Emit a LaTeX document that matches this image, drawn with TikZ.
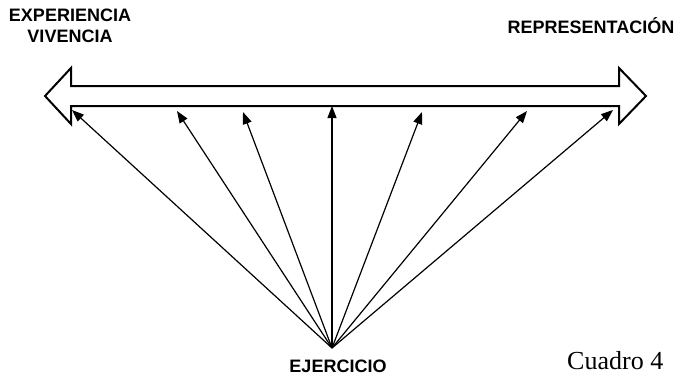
\documentclass[tikz,border=0pt]{standalone}
\usepackage{fontspec}
\setmainfont{Liberation Serif}
\setsansfont{Liberation Sans}
\usetikzlibrary{arrows.meta}
\begin{document}
\begin{tikzpicture}[x=1pt,y=-1pt,
    etiqueta/.style={font=\sffamily\bfseries\fontsize{18}{21}\selectfont, align=center},
    rayo/.style={-{Triangle[length=12pt,width=9pt]}, line width=1.2pt}]
    \useasboundingbox (0,0) rectangle (680,376);
    % Flecha doble
    \draw[line width=2pt] (45,96) -- (71,68) -- (71,86) -- (619,86) -- (619,68)
        -- (646,96) -- (619,124) -- (619,106) -- (71,106) -- (71,124) -- cycle;
    % Extremos
    \node[etiqueta] (experiencia) at (70,26) {EXPERIENCIA\\VIVENCIA};
    \node[etiqueta] (representacion) at (591,26) {REPRESENTACIÓN};
    \node[etiqueta, anchor=base] (ejercicio) at (338,372) {EJERCICIO};
    % Vértice y puntas
    \coordinate (vertice) at (332,348);
    \coordinate (t1) at (72,110);
    \coordinate (t2) at (177,111);
    \coordinate (t3) at (243,112);
    \coordinate (t4) at (332,106);
    \coordinate (t5) at (422,112);
    \coordinate (t6) at (527,111);
    \coordinate (t7) at (613,110);
    % Rayos
    \draw[rayo] (vertice) -- (t1);
    \draw[rayo] (vertice) -- (t2);
    \draw[rayo] (vertice) -- (t3);
    \draw[rayo] (vertice) -- (t4);
    \draw[rayo] (vertice) -- (t5);
    \draw[rayo] (vertice) -- (t6);
    \draw[rayo] (vertice) -- (t7);
    % Leyenda
    \node[anchor=base west, font=\fontsize{26}{26}\selectfont, inner sep=0pt] (cuadro) at (567,369) {Cuadro 4};
\end{tikzpicture}
\end{document}
